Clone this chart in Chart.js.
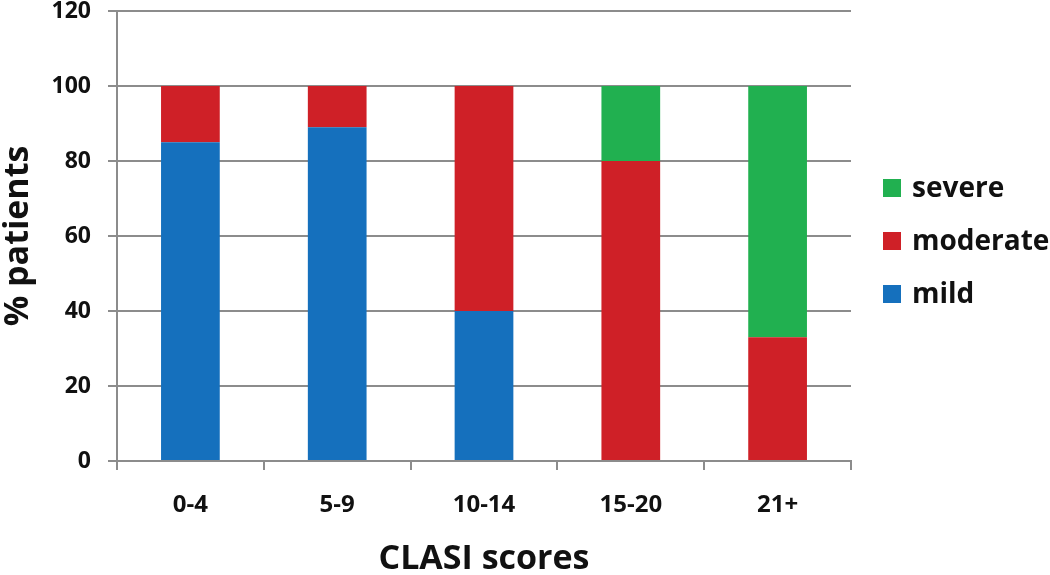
<!DOCTYPE html>
<html>
<head>
<meta charset="utf-8">
<script src="https://cdn.jsdelivr.net/npm/chart.js@4"></script>
<style>
  html, body { margin: 0; padding: 0; background: #fff; }
  #wrap { width: 1050px; height: 575px; }
</style>
</head>
<body>
<div id="wrap"><canvas id="clasiChart"></canvas></div>
<script>
const categories = ['0-4', '5-9', '10-14', '15-20', '21+'];
const mild = [85, 89, 40, 0, 0];
const moderate = [15, 11, 60, 80, 33];
const severe = [0, 0, 0, 20, 67];
const yTicks = [0, 20, 40, 60, 80, 100, 120];

const FONT = '"Open Sans", "Noto Sans", sans-serif';
const GRID = '#8c8c8c';
const TEXT = '#111';

// legend drawn on the right, severe on top (reverse of dataset order)
const sideLegend = {
  id: 'sideLegend',
  afterDraw(chart) {
    const c = chart.ctx;
    const sets = chart.data.datasets.slice().reverse();
    c.save();
    c.font = 'bold 28px ' + FONT;
    c.textBaseline = 'middle';
    c.textAlign = 'left';
    sets.forEach((ds, i) => {
      const y = 188 + i * 53;
      c.fillStyle = ds.backgroundColor;
      c.fillRect(883, y - 9, 18, 18);
      c.fillStyle = TEXT;
      c.fillText(ds.label, 912, y + 1);
    });
    c.restore();
  }
};

const ctx = document.getElementById('clasiChart').getContext('2d');
const clasiChart = new Chart(ctx, {
  type: 'bar',
  data: {
    labels: categories,
    datasets: [
      { label: 'mild', data: mild, backgroundColor: '#1570bd' },
      { label: 'moderate', data: moderate, backgroundColor: '#cf2027' },
      { label: 'severe', data: severe, backgroundColor: '#21b050' }
    ]
  },
  plugins: [sideLegend],
  options: {
    responsive: true,
    maintainAspectRatio: false,
    animation: false,
    datasets: {
      bar: { barPercentage: 0.4, categoryPercentage: 1.0 }
    },
    layout: { padding: { top: 0, right: 199, left: 0, bottom: 0 } },
    plugins: {
      tooltip: { enabled: false },
      legend: { display: false }
    },
    scales: {
      x: {
        stacked: true,
        grid: {
          offset: true,
          drawOnChartArea: false,
          drawTicks: true,
          tickLength: 9,
          color: GRID,
          lineWidth: 2
        },
        border: { color: GRID, width: 2 },
        ticks: {
          color: TEXT,
          padding: 21,
          font: { family: FONT, size: 24, weight: 'bold' }
        },
        title: {
          display: true,
          text: 'CLASI scores',
          color: TEXT,
          padding: { top: 0, bottom: 0 },
          font: { family: FONT, size: 34, weight: 'bold', lineHeight: 0.9 }
        },
        afterFit: (scale) => { scale.height = 114; }
      },
      y: {
        stacked: true,
        min: 0,
        max: 120,
        afterBuildTicks: (scale) => { scale.ticks = yTicks.map(v => ({ value: v })); },
        grid: {
          tickLength: 9,
          color: GRID,
          lineWidth: 2
        },
        border: { color: GRID, width: 2 },
        ticks: {
          color: TEXT,
          padding: 17,
          font: { family: FONT, size: 23, weight: 'bold', lineHeight: 1.0 }
        },
        title: {
          display: true,
          text: '% patients',
          color: TEXT,
          padding: { top: 0, bottom: 0 },
          font: { family: FONT, size: 34, weight: 'bold', lineHeight: 1.1 }
        },
        afterFit: (scale) => {
          scale.width = 117;
          scale.paddingTop = 11;
          scale.paddingBottom = 0;
        }
      }
    }
  }
});
</script>
</body>
</html>
